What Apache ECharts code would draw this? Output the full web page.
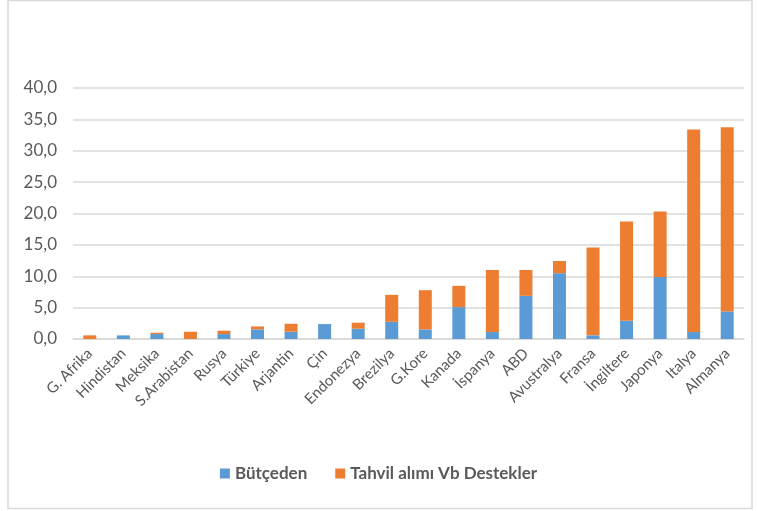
<!DOCTYPE html>
<html lang="tr">
<head>
<meta charset="utf-8">
<title>Destekler</title>
<script src="https://cdn.jsdelivr.net/npm/echarts@6/dist/echarts.min.js"></script>
<style>
  html, body { margin: 0; padding: 0; background: #fff; }
  #chart { width: 757px; height: 511px; }
</style>
</head>
<body>
<div id="chart"></div>
<script type="text/javascript">
  let countries = ['G. Afrika', 'Hindistan', 'Meksika', 'S.Arabistan', 'Rusya', 'Türkiye', 'Arjantin', 'Çin', 'Endonezya', 'Brezilya',
    'G.Kore', 'Kanada', 'İspanya', 'ABD', 'Avustralya', 'Fransa', 'İngiltere', 'Japonya', 'Italya', 'Almanya'];
  let butceden = [0, 0.58, 0.79, 0, 0.79, 1.53, 1.16, 2.38, 1.64, 2.75,
    1.53, 5.08, 1.11, 6.88, 10.48, 0.58, 2.91, 9.89, 1.11, 4.39];
  let tahvil = [0.58, 0, 0.21, 1.16, 0.53, 0.47, 1.27, 0, 0.96, 4.29,
    6.25, 3.39, 9.89, 4.12, 1.95, 14.02, 15.82, 10.41, 32.29, 29.37];

  let chart = echarts.init(document.getElementById('chart'));
  let txt = '#595959';

  let option = {
    animation: false,
    textStyle: { fontFamily: 'Lato' },
    graphic: [{
      type: 'rect',
      shape: { x: 8, y: 0.5, width: 744, height: 508 },
      style: { fill: 'none', stroke: '#d9d9d9', lineWidth: 1.5 }
    }],
    grid: { left: 73, right: 13, top: 88, bottom: 172 },
    legend: {
      bottom: 24,
      left: 'center',
      itemWidth: 10,
      itemHeight: 10,
      itemGap: 28,
      icon: 'rect',
      textStyle: { color: txt, fontSize: 17, fontWeight: 'bold' },
      data: ['Bütçeden', 'Tahvil alımı Vb Destekler']
    },
    xAxis: {
      type: 'category',
      data: countries,
      axisLine: { show: true, lineStyle: { color: '#d9d9d9', width: 1.5 } },
      axisTick: { show: false },
      axisLabel: { rotate: 45, color: txt, fontSize: 15, margin: 12, interval: 0 }
    },
    yAxis: {
      type: 'value',
      min: 0,
      max: 40,
      interval: 5,
      axisLine: { show: false },
      axisTick: { show: false },
      splitLine: { lineStyle: { color: '#d9d9d9', width: 1.5 } },
      axisLabel: {
        color: txt,
        fontSize: 17,
        margin: 16,
        formatter: v => v.toFixed(1).replace('.', ',')
      }
    },
    series: [
      {
        name: 'Bütçeden',
        type: 'bar',
        stack: 'total',
        barWidth: 13,
        itemStyle: { color: '#5B9BD5' },
        data: butceden
      },
      {
        name: 'Tahvil alımı Vb Destekler',
        type: 'bar',
        stack: 'total',
        barWidth: 13,
        itemStyle: { color: '#ED7D31' },
        data: tahvil
      }
    ]
  };

  chart.setOption(option);
</script>
</body>
</html>
